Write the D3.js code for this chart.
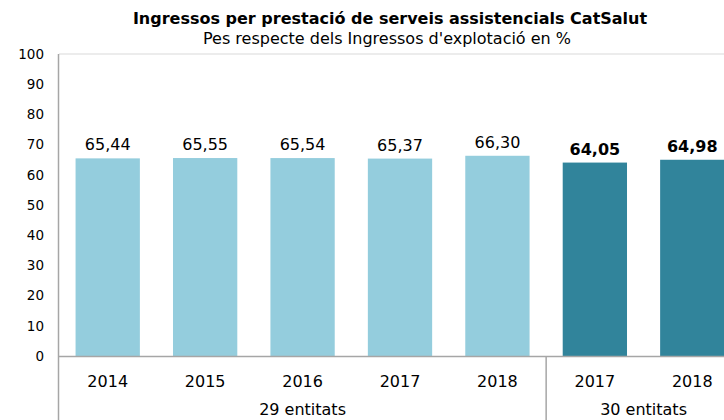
<!DOCTYPE html>
<html>
<head>
<meta charset="utf-8">
<script src="https://cdn.jsdelivr.net/npm/d3@7"></script>
<style>
  body { margin: 0; background: #fff; }
  svg { display: block; font-family: "DejaVu Sans", Verdana, sans-serif; }
</style>
</head>
<body>
<div id="chart"></div>
<script>
// Chart data
const years = ["2014", "2015", "2016", "2017", "2018", "2017", "2018"];
const values = [65.44, 65.55, 65.54, 65.37, 66.30, 64.05, 64.98];
const groupOf = [0, 0, 0, 0, 0, 1, 1];
const groupLabels = ["29 entitats", "30 entitats"];
const yTicks = [0, 10, 20, 30, 40, 50, 60, 70, 80, 90, 100];

const W = 724, H = 420;
const margin = {top: 54, left: 59, bottom: 64};
const plotW = 682; // extends past the right edge, as in the reference
const plotH = H - margin.top - margin.bottom;

const svg = d3.select("#chart").append("svg")
    .attr("width", W)
    .attr("height", H);

const x = d3.scaleBand().domain(d3.range(values.length)).range([margin.left, margin.left + plotW]).paddingInner(0.34).paddingOuter(0.17);
const y = d3.scaleLinear().domain([0, 100]).range([margin.top + plotH, margin.top]);

// titles
svg.append("text").attr("x", 390).attr("y", 24).attr("text-anchor", "middle")
    .style("font-weight", "bold").style("font-size", "16px").style("fill", "#000")
    .text("Ingressos per prestació de serveis assistencials CatSalut");
svg.append("text").attr("x", 387).attr("y", 44).attr("text-anchor", "middle")
    .style("font-size", "16px").style("fill", "#000")
    .text("Pes respecte dels Ingressos d'explotació en %");

// plot border (top)
svg.append("line").attr("x1", margin.left).attr("x2", W).attr("y1", y(100)).attr("y2", y(100))
    .style("stroke", "#d9d9d9").style("stroke-width", 1);

// y axis labels
svg.append("g").selectAll("text").data(yTicks).join("text")
    .attr("x", 44).attr("y", d => y(d)).attr("dy", "0.35em")
    .attr("text-anchor", "end").style("font-size", "13.5px").style("fill", "#000")
    .text(d => d);

// bars
svg.append("g").selectAll("rect").data(values).join("rect")
    .attr("x", (d, i) => x(i))
    .attr("width", x.bandwidth())
    .attr("y", d => y(d))
    .attr("height", d => y(0) - y(d))
    .style("fill", (d, i) => groupOf[i] === 0 ? "#94cddd" : "#31849b");

// value labels
const fmt = d3.format(".2f");
svg.append("g").selectAll("text").data(values).join("text")
    .attr("x", (d, i) => x(i) + x.bandwidth() / 2)
    .attr("y", d => y(d) - 8)
    .attr("text-anchor", "middle")
    .style("font-size", "16px")
    .style("font-weight", (d, i) => groupOf[i] === 1 ? "bold" : "normal")
    .style("fill", "#000")
    .text(d => fmt(d).replace(".", ","));

// axes lines
svg.append("line").attr("x1", margin.left).attr("x2", W).attr("y1", y(0) + 0.5).attr("y2", y(0) + 0.5)
    .style("stroke", "#a6a6a6").style("stroke-width", 1.5);
svg.append("line").attr("x1", margin.left - 0.5).attr("x2", margin.left - 0.5).attr("y1", y(100)).attr("y2", H)
    .style("stroke", "#a6a6a6").style("stroke-width", 1.5);
// group separator
const sepX = margin.left + plotW * 5 / 7;
svg.append("line").attr("x1", sepX).attr("x2", sepX).attr("y1", y(0)).attr("y2", H)
    .style("stroke", "#a6a6a6").style("stroke-width", 1.5);

// year labels
svg.append("g").selectAll("text").data(years).join("text")
    .attr("x", (d, i) => x(i) + x.bandwidth() / 2)
    .attr("y", 387)
    .attr("text-anchor", "middle").style("font-size", "16px").style("fill", "#000")
    .text(d => d);

// group labels
const groupCenter = g => {
    const idx = d3.range(values.length).filter(i => groupOf[i] === g);
    const x0 = margin.left + plotW * idx[0] / values.length;
    const x1 = margin.left + plotW * (idx[idx.length - 1] + 1) / values.length;
    return (x0 + x1) / 2;
};
svg.append("g").selectAll("text").data(groupLabels).join("text")
    .attr("x", (d, i) => groupCenter(i))
    .attr("y", 415)
    .attr("text-anchor", "middle").style("font-size", "16px").style("fill", "#000")
    .text(d => d);
</script>
</body>
</html>
